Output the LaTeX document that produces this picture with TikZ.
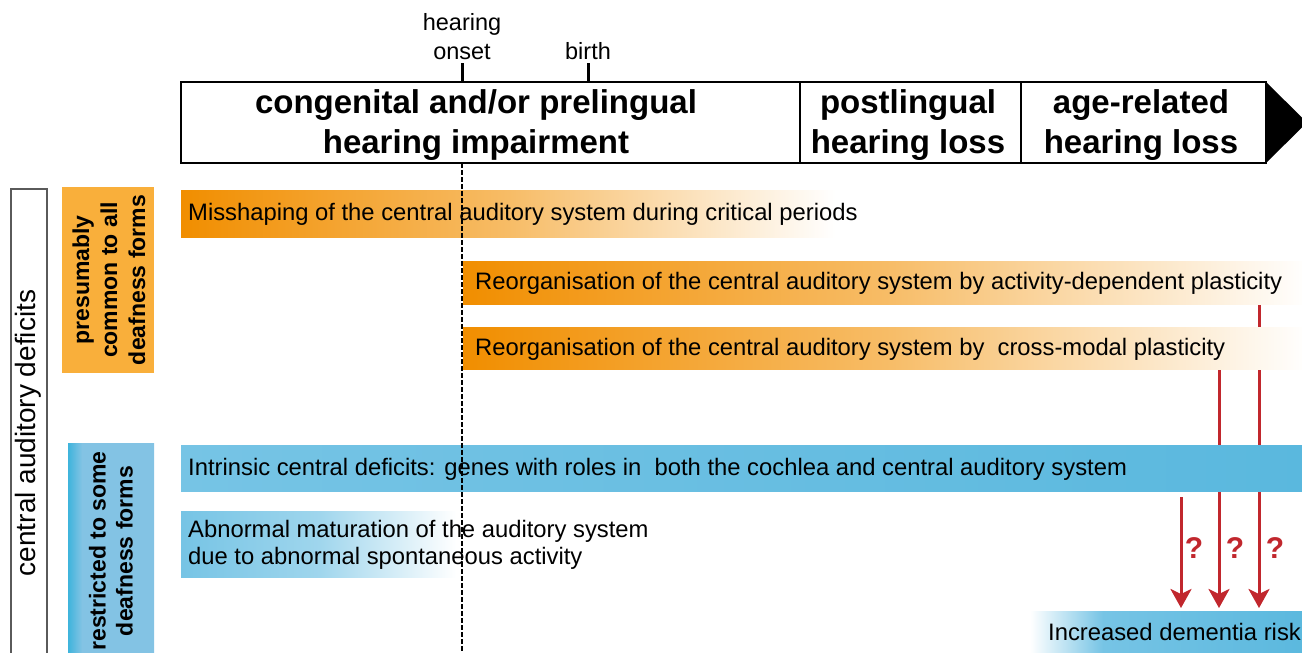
\documentclass[tikz,border=0pt]{standalone}
\usepackage{fontspec}
\setmainfont{Liberation Sans}
\usetikzlibrary{arrows.meta}
\pgfdeclarelayer{bg}
\pgfsetlayers{bg,main}
\definecolor{orA}{HTML}{F18E00}
\definecolor{orB}{HTML}{F7BC66}
\definecolor{orLab}{HTML}{F9AF3B}
\definecolor{blA}{HTML}{76C4E5}
\definecolor{blB}{HTML}{5AB8DE}
\definecolor{blLabA}{HTML}{3FB4DC}
\definecolor{blLabB}{HTML}{83C3E4}
\definecolor{arrRed}{HTML}{C1272D}
\definecolor{boxGray}{HTML}{5A5A5A}
\pgfdeclarehorizontalshading{demfade}{100bp}{color(0bp)=(white); color(25bp)=(white); color(38bp)=(blA); color(75bp)=(blB); color(100bp)=(blB)}
\pgfdeclarehorizontalshading{labfade}{100bp}{color(0bp)=(blLabA); color(25bp)=(blLabA); color(33bp)=(blLabB); color(100bp)=(blLabB)}
\begin{document}
\begin{tikzpicture}[x=1pt,y=-1pt,
  bodytext/.style={font=\fontsize{23.8}{27.6}\selectfont, anchor=west, inner sep=0pt, align=left},
  barshape/.style={anchor=north west, inner sep=0pt, draw=none},
  hdr/.style={font=\bfseries\fontsize{33}{40}\selectfont, align=center, inner sep=0pt},
  ticklab/.style={font=\fontsize{23.5}{29.5}\selectfont, align=center, inner sep=0pt, anchor=south},
  sidelab/.style={font=\bfseries\fontsize{23}{28}\selectfont, align=center, rotate=90, inner sep=0pt},
  redarrow/.style={draw=arrRed, line width=3pt, -{Stealth[length=19pt,width=21pt,inset=5pt]}},
  qmark/.style={text=arrRed, font=\bfseries\fontsize{30}{30}\selectfont, inner sep=0pt},
]
\useasboundingbox (0,0) rectangle (1302,653);

% timeline
\draw[line width=2.5pt] (181,82) rectangle (1266,163);
\draw[line width=2.5pt] (800,82) -- (800,163);
\draw[line width=2.5pt] (1021,82) -- (1021,163);
\fill (1265,81) -- (1307,122.5) -- (1265,164) -- cycle;
\node[hdr] (h1) at (476,125) {congenital and/or prelingual\\hearing impairment};
\node[hdr] (h2) at (908,125) {postlingual\\hearing loss};
\node[hdr] (h3) at (1141,125) {age-related\\hearing loss};

\coordinate (onset) at (462,82);
\coordinate (birth) at (588,82);
\draw[line width=3pt] (onset) -- ++(0,-19);
\draw[line width=3pt] (birth) -- ++(0,-19);
\node[ticklab] (lonset) at (462,60) {hearing\\onset};
\node[ticklab] (lbirth) at (588,60) {birth};

% left labels
\node[barshape, draw=boxGray, line width=2pt, minimum width=36, minimum height=490] (cad) at (10,188) {};
\node[font=\fontsize{28}{28}\selectfont, rotate=90, inner sep=0pt] (cadtext) at (28,433) {central auditory deficits};
\node[barshape, fill=orLab, minimum width=92, minimum height=186] (orbox) at (62,187) {};
\node[sidelab] (ortext) at (109,280) {presumably\\common to all\\deafness forms};
\node[barshape, shading=labfade, minimum width=86, minimum height=230] (blbox) at (68,443) {};
\node[sidelab, font=\bfseries\fontsize{23}{27}\selectfont] (bltext) at (111,551) {restricted to some\\deafness forms};

% bars
\node[barshape, left color=orA, right color=white, middle color=orB, minimum width=654, minimum height=47] (b1) at (181,190) {};
\node[barshape, left color=orA, right color=white, middle color=orB, minimum width=845, minimum height=43] (b2) at (463,261) {};
\node[barshape, left color=orA, right color=white, middle color=orB, minimum width=845, minimum height=42] (b3) at (463,327) {};
\node[barshape, left color=blA, right color=blB, minimum width=1125, minimum height=46] (b4) at (181,445) {};
\node[barshape, left color=blA, right color=white, middle color=blA!70!white, minimum width=275, minimum height=66] (b5) at (181,511) {};
\node[barshape, shading=demfade, minimum width=280, minimum height=50] (b6) at (1030,611) {};

\node[bodytext] (t1) at (188,214) {Misshaping of the central auditory system during critical periods};
\node[bodytext] (t2) at (475,283.5) {Reorganisation of the central auditory system by activity-dependent plasticity};
\node[bodytext] (t3) at (475,349) {Reorganisation of the central auditory system by\ \ cross-modal plasticity};
\node[bodytext] (t4) at (188,469) {Intrinsic central deficits: genes with roles in\ \ both the cochlea and central auditory system};
\node[bodytext] (t5) at (188,545) {Abnormal maturation of the auditory system\\due to abnormal spontaneous activity};
\node[bodytext] (t6) at (1048,632) {Increased dementia risk};

% red arrows (behind bars)
\coordinate (x1) at (1181,0);
\coordinate (x2) at (1219,0);
\coordinate (x3) at (1259,0);
\begin{pgfonlayer}{bg}
\draw[redarrow, shorten <=6pt, shorten >=3pt] (x1 |- b4.south) -- (x1 |- b6.north);
\draw[redarrow, shorten >=3pt] (x2 |- b3.south) -- (x2 |- b6.north);
\draw[redarrow, shorten >=3pt] (x3 |- b2.south) -- (x3 |- b6.north);
\end{pgfonlayer}
\node[qmark] (q1) at (1194,548) {?};
\node[qmark] (q2) at (1235,548) {?};
\node[qmark] (q3) at (1275,548) {?};

% hearing onset dashed line
\coordinate (dashtop) at (462,163);
\coordinate (dashend) at (462,660);
\draw[line width=1.3pt, dash pattern=on 5pt off 2pt] (dashtop) -- (dashend);
\end{tikzpicture}
\end{document}
